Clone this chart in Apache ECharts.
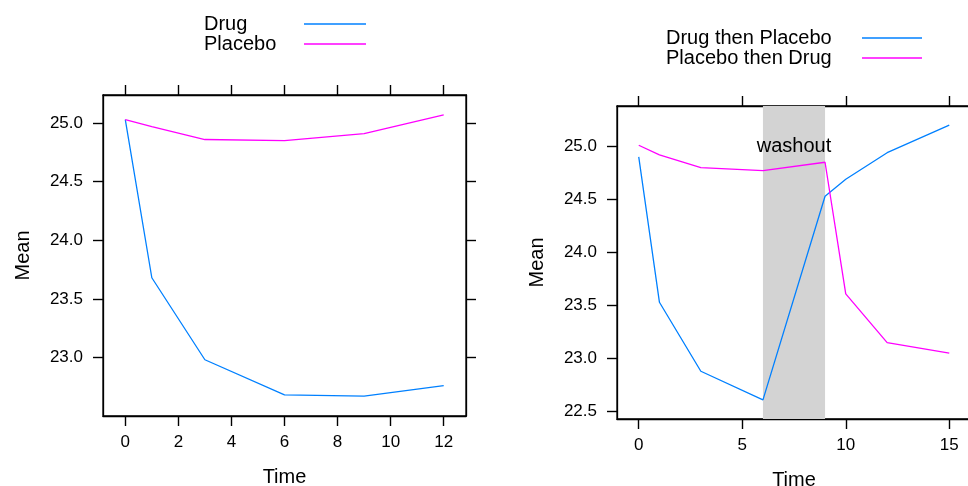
<!DOCTYPE html>
<html>
<head>
<meta charset="utf-8">
<script src="https://cdn.jsdelivr.net/npm/echarts@6/dist/echarts.min.js"></script>
<style>
  html, body { margin: 0; padding: 0; background: #fff; }
  #main { width: 968px; height: 486px; }
</style>
</head>
<body>
<div id="main"></div>
<script>
// left panel: parallel groups
var leftTime = [0, 1, 3, 6, 9, 12];
var drugMean = [25.03, 23.68, 22.98, 22.68, 22.67, 22.76];
var placeboMean = [25.03, 24.97, 24.86, 24.85, 24.91, 25.07];
var leftXTicks = [0, 2, 4, 6, 8, 10, 12];
var leftYTicks = [23.0, 23.5, 24.0, 24.5, 25.0];

// right panel: crossover
var rightTime = [0, 1, 3, 6, 9, 10, 12, 15];
var drugThenPlacebo = [24.90, 23.53, 22.88, 22.61, 24.53, 24.69, 24.94, 25.20];
var placeboThenDrug = [25.01, 24.92, 24.80, 24.77, 24.85, 23.61, 23.15, 23.05];
var rightXTicks = [0, 5, 10, 15];
var rightYTicks = [22.5, 23.0, 23.5, 24.0, 24.5, 25.0];
var washout = [6, 9];
var washoutLabel = { text: 'washout', x: 7.5, y: 25.0 };

function zip(xs, ys) {
  return xs.map(function (x, i) { return [x, ys[i]]; });
}

var BLUE = '#0080ff', PINK = '#ff00ff';
var FONT = 'Liberation Sans';

function xAxis(grid, min, max, ticks, top) {
  return {
    type: 'value', gridIndex: grid, min: min, max: max,
    position: top ? 'top' : 'bottom',
    name: top ? '' : 'Time', nameLocation: 'middle', nameGap: 51,
    nameTextStyle: { fontSize: 20, color: '#000', fontFamily: FONT },
    splitLine: { show: false },
    axisLine: { show: true, onZero: false, lineStyle: { color: '#000', width: 1.3 } },
    axisTick: { show: true, length: 10, customValues: ticks, lineStyle: { color: '#000', width: 1.4 } },
    axisLabel: { show: !top, customValues: ticks, margin: 18, fontSize: 17, color: '#000', fontFamily: FONT }
  };
}
function yAxis(grid, min, max, ticks, right) {
  return {
    type: 'value', gridIndex: grid, min: min, max: max,
    position: right ? 'right' : 'left',
    name: right ? '' : 'Mean', nameLocation: 'middle', nameGap: 70,
    nameTextStyle: { fontSize: 20, color: '#000', fontFamily: FONT },
    splitLine: { show: false },
    axisLine: { show: true, onZero: false, lineStyle: { color: '#000', width: 1.3 } },
    axisTick: { show: true, length: 10, customValues: ticks, lineStyle: { color: '#000', width: 1.4 } },
    axisLabel: {
      show: !right, customValues: ticks, margin: 20, fontSize: 17, color: '#000', fontFamily: FONT,
      formatter: function (v) { return v.toFixed(1); }
    }
  };
}

function legendFor(names, left, top, textWidth, lineWidth) {
  return {
    data: names, orient: 'vertical', left: left, top: top,
    align: 'right', padding: 0, icon: 'rect',
    itemWidth: lineWidth, itemHeight: 1.5, itemGap: 0,
    formatter: function (n) { return '{t|' + n + '}'; },
    textStyle: {
      rich: { t: { width: textWidth, align: 'left', fontSize: 20, lineHeight: 20, color: '#000', fontFamily: FONT } }
    }
  };
}

var chart = echarts.init(document.getElementById('main'));
chart.setOption({
  animation: false,
  textStyle: { fontFamily: FONT },
  grid: [
    { left: 103, top: 95, width: 363, height: 321, show: true, borderColor: '#000', borderWidth: 1.3, outerBoundsMode: 'none' },
    { left: 617, top: 106, width: 354, height: 313, show: true, borderColor: '#000', borderWidth: 1.3, outerBoundsMode: 'none' }
  ],
  legend: [
    legendFor(['Drug', 'Placebo'], 204, 14, 95, 62),
    legendFor(['Drug then Placebo', 'Placebo then Drug'], 666, 28, 191, 60)
  ],
  xAxis: [
    xAxis(0, -0.84, 12.84, leftXTicks, false),
    xAxis(0, -0.84, 12.84, leftXTicks, true),
    xAxis(1, -1.05, 16.05, rightXTicks, false),
    xAxis(1, -1.05, 16.05, rightXTicks, true)
  ],
  yAxis: [
    yAxis(0, 22.50, 25.24, leftYTicks, false),
    yAxis(0, 22.50, 25.24, leftYTicks, true),
    yAxis(1, 22.43, 25.38, rightYTicks, false),
    yAxis(1, 22.43, 25.38, rightYTicks, true)
  ],
  series: [
    {
      name: 'Drug', type: 'line', xAxisIndex: 0, yAxisIndex: 0, symbol: 'none',
      lineStyle: { color: BLUE, width: 1.3 }, itemStyle: { color: BLUE },
      data: zip(leftTime, drugMean)
    },
    {
      name: 'Placebo', type: 'line', xAxisIndex: 0, yAxisIndex: 0, symbol: 'none',
      lineStyle: { color: PINK, width: 1.3 }, itemStyle: { color: PINK },
      data: zip(leftTime, placeboMean)
    },
    {
      name: 'Drug then Placebo', type: 'line', xAxisIndex: 2, yAxisIndex: 2, symbol: 'none',
      lineStyle: { color: BLUE, width: 1.3 }, itemStyle: { color: BLUE },
      data: zip(rightTime, drugThenPlacebo),
      markArea: {
        silent: true,
        itemStyle: { color: '#d3d3d3' },
        data: [[{ xAxis: washout[0] }, { xAxis: washout[1] }]]
      },
      markPoint: {
        silent: true, symbol: 'circle', symbolSize: 0,
        label: { show: true, position: 'inside', fontSize: 20, color: '#000', formatter: washoutLabel.text },
        data: [{ coord: [washoutLabel.x, washoutLabel.y] }]
      }
    },
    {
      name: 'Placebo then Drug', type: 'line', xAxisIndex: 2, yAxisIndex: 2, symbol: 'none',
      lineStyle: { color: PINK, width: 1.3 }, itemStyle: { color: PINK },
      data: zip(rightTime, placeboThenDrug)
    }
  ]
});
</script>
</body>
</html>
